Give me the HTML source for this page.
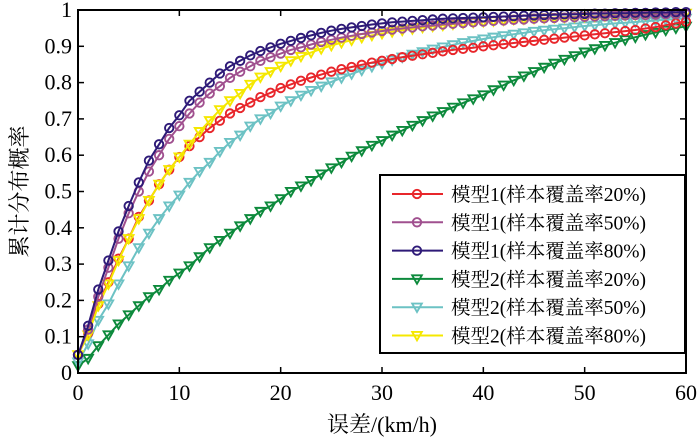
<!DOCTYPE html>
<html><head><meta charset="utf-8"><style>
body{margin:0;background:#fff}
svg{display:block;font-family:"Liberation Serif","Noto Serif CJK SC",serif}
</style></head><body>
<svg id="chart" width="700" height="438" viewBox="0 0 700 438" xmlns="http://www.w3.org/2000/svg">
<g id="plot"></g>
<g id="axes"></g>
<g id="legend"></g>
</svg>
<script>
const xTicks=[0,10,20,30,40,50,60];
const yTicks=[0,0.1,0.2,0.3,0.4,0.5,0.6,0.7,0.8,0.9,1];
const yTickLabels=["0","0.1","0.2","0.3","0.4","0.5","0.6","0.7","0.8","0.9","1"];
const seriesNames=["模型1(样本覆盖率20%)","模型1(样本覆盖率50%)","模型1(样本覆盖率80%)","模型2(样本覆盖率20%)","模型2(样本覆盖率50%)","模型2(样本覆盖率80%)"];
const red=[0.05,0.11,0.19,0.25,0.315,0.37,0.43,0.475,0.52,0.56,0.595,0.625,0.65,0.675,0.695,0.715,0.73,0.745,0.76,0.772,0.785,0.795,0.805,0.814,0.822,0.83,0.837,0.843,0.849,0.855,0.86,0.865,0.87,0.874,0.878,0.882,0.886,0.89,0.893,0.896,0.9,0.903,0.906,0.909,0.912,0.915,0.918,0.921,0.924,0.927,0.93,0.933,0.936,0.939,0.942,0.945,0.949,0.953,0.958,0.963,0.968];
const purple=[0.05,0.12,0.21,0.29,0.37,0.44,0.50,0.555,0.60,0.645,0.68,0.715,0.745,0.77,0.79,0.813,0.83,0.845,0.86,0.87,0.88,0.89,0.897,0.905,0.912,0.918,0.924,0.929,0.934,0.938,0.942,0.946,0.949,0.952,0.955,0.957,0.96,0.962,0.964,0.966,0.968,0.97,0.971,0.973,0.974,0.976,0.977,0.978,0.979,0.98,0.981,0.982,0.983,0.984,0.985,0.986,0.986,0.987,0.988,0.988,0.989];
const navy=[0.05,0.13,0.23,0.31,0.39,0.46,0.525,0.585,0.63,0.675,0.71,0.75,0.775,0.80,0.825,0.845,0.86,0.875,0.887,0.897,0.907,0.915,0.923,0.93,0.937,0.943,0.948,0.952,0.956,0.96,0.963,0.966,0.968,0.97,0.972,0.974,0.976,0.977,0.978,0.979,0.98,0.981,0.982,0.983,0.984,0.985,0.986,0.987,0.988,0.988,0.989,0.99,0.99,0.991,0.991,0.992,0.992,0.993,0.993,0.994,0.994];
const green=[0.02,0.04,0.075,0.105,0.135,0.16,0.185,0.21,0.23,0.255,0.275,0.295,0.32,0.345,0.365,0.385,0.405,0.425,0.445,0.46,0.48,0.50,0.515,0.53,0.548,0.565,0.58,0.597,0.612,0.627,0.64,0.655,0.668,0.682,0.695,0.708,0.72,0.732,0.744,0.755,0.766,0.78,0.793,0.806,0.818,0.83,0.842,0.853,0.864,0.874,0.884,0.893,0.902,0.91,0.918,0.925,0.932,0.938,0.944,0.95,0.955];
const cyan=[0.03,0.08,0.145,0.19,0.245,0.295,0.345,0.385,0.425,0.46,0.49,0.525,0.555,0.58,0.61,0.635,0.655,0.68,0.70,0.715,0.735,0.75,0.765,0.778,0.79,0.802,0.813,0.824,0.834,0.844,0.853,0.862,0.87,0.878,0.885,0.892,0.898,0.904,0.91,0.915,0.92,0.925,0.929,0.933,0.937,0.941,0.944,0.947,0.95,0.953,0.956,0.958,0.961,0.963,0.965,0.967,0.969,0.971,0.973,0.975,0.977];
const yellow=[0.05,0.105,0.185,0.245,0.31,0.37,0.425,0.475,0.52,0.56,0.595,0.63,0.665,0.695,0.725,0.75,0.77,0.795,0.815,0.83,0.845,0.86,0.872,0.883,0.893,0.902,0.91,0.917,0.924,0.93,0.935,0.94,0.944,0.948,0.952,0.955,0.958,0.961,0.964,0.966,0.968,0.97,0.972,0.974,0.975,0.977,0.978,0.979,0.98,0.981,0.982,0.983,0.984,0.985,0.986,0.987,0.988,0.989,0.99,0.99,0.991];

const NS="http://www.w3.org/2000/svg";
const L=78,R=686,T=10,B=373;
const xs=v=>L+(v-0)/(60-0)*(R-L);
const ys=v=>B-(v-0)/(1-0)*(B-T);
function mk(tag,attrs,parent){const e=document.createElementNS(NS,tag);for(const k in attrs)e.setAttribute(k,attrs[k]);parent.appendChild(e);return e;}
const plot=document.getElementById('plot'),axes=document.getElementById('axes'),legend=document.getElementById('legend');
const series=[
 {data:red,color:"#e8262b",m:"o"},
 {data:purple,color:"#a0508f",m:"o"},
 {data:navy,color:"#2e1a78",m:"o"},
 {data:green,color:"#0d8a3c",m:"v"},
 {data:cyan,color:"#6cc2c4",m:"v"},
 {data:yellow,color:"#f5e800",m:"v"}
];
const drawOrder=[3,4,0,5,1,2];
function marker(g,m,x,y,color){
 if(m==="o"){return mk('circle',{cx:x,cy:y,r:4.2,fill:'none',stroke:color,'stroke-width':1.9},g);}
 return mk('path',{d:`M${x-4.8},${y-3.6}L${x+4.8},${y-3.6}L${x},${y+4.8}Z`,fill:'none',stroke:color,'stroke-width':1.9},g);
}
drawOrder.forEach(i=>{
 const s=series[i];
 const g=mk('g',{},plot);
 
 
 const pts=s.data.map((v,k)=>xs(k).toFixed(1)+','+ys(v).toFixed(1)).join(' ');
 const line=mk('polyline',{points:pts,fill:'none',stroke:s.color,'stroke-width':2},g);
 
 
 s.data.forEach((v,k)=>{const mm=marker(g,s.m,xs(k),ys(v),s.color);
  
  });
});
const fr=mk('rect',{x:L,y:T,width:R-L,height:B-T,fill:'none',stroke:'#000','stroke-width':2},axes);


xTicks.forEach(v=>{
 const x=xs(v);
 mk('line',{x1:x,y1:B,x2:x,y2:B-6,stroke:'#000','stroke-width':1.5},axes);
 mk('line',{x1:x,y1:T,x2:x,y2:T+6,stroke:'#000','stroke-width':1.5},axes);
 const t=mk('text',{x:x,y:B+27,'text-anchor':'middle','font-size':22},axes);
 t.textContent=v;
 
 
});
yTicks.forEach((v,i)=>{
 const y=ys(v);
 mk('line',{x1:L,y1:y,x2:L+6,y2:y,stroke:'#000','stroke-width':1.5},axes);
 mk('line',{x1:R,y1:y,x2:R-6,y2:y,stroke:'#000','stroke-width':1.5},axes);
 const t=mk('text',{x:L-6,y:y+7,'text-anchor':'end','font-size':22},axes);
 t.textContent=yTickLabels[i];
 
 
});
const xt=mk('text',{x:(L+R)/2,y:432,'text-anchor':'middle','font-size':22},axes);
xt.textContent="误差/(km/h)";


const yt=mk('text',{x:0,y:0,'text-anchor':'middle','font-size':22,transform:`translate(27,${(T+B)/2}) rotate(-90)`},axes);
yt.textContent="累计分布概率";


const lb=mk('rect',{x:380,y:175,width:305,height:178,fill:'#fff',stroke:'#000','stroke-width':2},legend);


seriesNames.forEach((n,i)=>{
 const y=194+i*28.3;const s=series[i];
 const g=mk('g',{},legend);
 
 
 mk('line',{x1:392,y1:y,x2:443,y2:y,stroke:s.color,'stroke-width':2},g);
 marker(g,s.m,417,y,s.color);
 const t=mk('text',{x:451,y:y+7,'font-size':19.5},g);
 t.textContent=n;
});
</script>
</body></html>
